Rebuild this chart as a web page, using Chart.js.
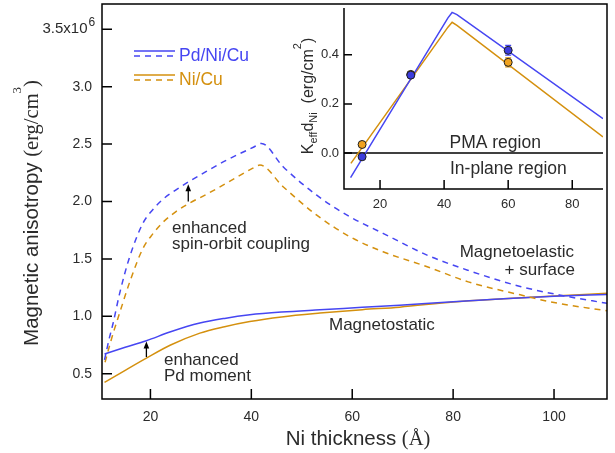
<!DOCTYPE html>
<html>
<head>
<meta charset="utf-8">
<script src="https://cdn.jsdelivr.net/npm/chart.js@4.4.0/dist/chart.umd.min.js"></script>
<style>
  html, body { margin: 0; padding: 0; background: #fff; }
  #wrap { position: relative; width: 615px; height: 453px; }
  #mainChart { position: absolute; left: 0; top: 0; }
  #insetChart { position: absolute; left: 290px; top: 0; }
</style>
</head>
<body>
<div id="wrap">
  <canvas id="mainChart" width="615" height="453"></canvas>
  <canvas id="insetChart" width="320" height="215"></canvas>
</div>
<script>
const BLUE = '#4646f2';
const ORANGE = '#d4900e';
const TXT = '#2b2b2b';
const SANS = '"Liberation Sans", Arial, Helvetica, sans-serif';
const SERIF = '"Liberation Serif", "Times New Roman", serif';

// main panel: Ni thickness (Å) vs anisotropy (x10^6 erg/cm^3)
const mainXTicks = [20, 40, 60, 80, 100];
const mainYTicks = [0.5, 1.0, 1.5, 2.0, 2.5, 3.0, 3.5];

// magnetoelastic + surface (dashed)
const pdElasticX = [10.9, 11.8, 12.6, 13.9, 15.9, 18.5, 20.5, 22.5, 25.0, 27.5, 31.0, 35.1, 40.5, 42.0, 46.3, 52.9, 59.5, 66.1, 75.0, 83.0, 93.3, 101.8, 110.5];
const pdElasticY = [0.62, 0.80, 0.94, 1.20, 1.52, 1.81, 1.93, 2.02, 2.10, 2.17, 2.26, 2.36, 2.475, 2.506, 2.303, 2.057, 1.868, 1.723, 1.53, 1.40, 1.26, 1.18, 1.113];
const niElasticX = [11.0, 12.0, 12.8, 13.9, 15.9, 18.5, 20.5, 22.5, 25.0, 27.5, 31.0, 35.1, 40.3, 41.7, 46.3, 52.9, 59.5, 66.1, 75.0, 83.0, 93.3, 100.0, 110.5];
const niElasticY = [0.60, 0.76, 0.88, 1.03, 1.30, 1.59, 1.72, 1.82, 1.91, 1.98, 2.06, 2.16, 2.29, 2.317, 2.129, 1.883, 1.694, 1.563, 1.43, 1.30, 1.187, 1.12, 1.048];

// magnetostatic (solid)
const pdStaticX = [10.9, 15.0, 19.2, 24.0, 29.8, 34.7, 39.7, 46.0, 53.6, 62.0, 69.4, 80.0, 90.0, 100.0, 110.5];
const pdStaticY = [0.672, 0.73, 0.787, 0.865, 0.941, 0.982, 1.013, 1.037, 1.057, 1.078, 1.097, 1.128, 1.153, 1.174, 1.19];
const niStaticX = [10.9, 15.0, 19.2, 24.0, 29.8, 34.7, 39.7, 46.0, 53.6, 62.0, 69.4, 80.0, 90.0, 100.0, 110.5];
const niStaticY = [0.424, 0.53, 0.636, 0.75, 0.854, 0.91, 0.955, 0.995, 1.028, 1.058, 1.08, 1.125, 1.153, 1.178, 1.20];

// inset: Keff*dNi (erg/cm^2) vs Ni thickness
const insetXTicks = [20, 40, 60, 80];
const insetYTicks = [0.0, 0.2, 0.4];
const pdFitX = [10.8, 41.2, 42.5, 44.0, 89.6];
const pdFitY = [-0.10, 0.55, 0.572, 0.563, 0.14];
const niFitX = [10.9, 41.2, 42.5, 44.0, 89.6];
const niFitY = [-0.042, 0.512, 0.532, 0.519, 0.066];
const insetPointX = [14.4, 29.6, 60];
const pdKeff = [-0.015, 0.317, 0.418];
const pdKeffErr = [0.006, 0.01, 0.02];
const niKeff = [0.035, 0.32, 0.369];
const niKeffErr = [0.006, 0.01, 0.018];

const pairs = (xs, ys) => xs.map((x, i) => ({ x, y: ys[i] }));

function drawRuns(ctx, runs, cx, cy, angle) {
  ctx.save();
  ctx.translate(cx, cy);
  ctx.rotate(angle);
  ctx.textAlign = 'left';
  ctx.textBaseline = 'alphabetic';
  let total = 0;
  runs.forEach(r => { ctx.font = r.font; r.w = ctx.measureText(r.text).width; total += r.w; });
  let u = -total / 2;
  runs.forEach(r => { ctx.font = r.font; ctx.fillText(r.text, u, r.dy || 0); u += r.w; });
  ctx.restore();
}

function arrowUp(ctx, x, yFrom, yTo) {
  ctx.beginPath();
  ctx.moveTo(x, yFrom);
  ctx.lineTo(x, yTo + 5);
  ctx.stroke();
  ctx.beginPath();
  ctx.moveTo(x, yTo);
  ctx.lineTo(x - 2.8, yTo + 7);
  ctx.lineTo(x + 2.8, yTo + 7);
  ctx.closePath();
  ctx.fill();
}

// keep the plot area exactly where the layout puts it
const fixX = h => s => { s.height = h; s.paddingLeft = 0; s.paddingRight = 0; };
const fixY = w => s => { s.width = w; s.paddingTop = 0; s.paddingBottom = 0; };

const mainDecor = {
  id: 'mainDecor',
  beforeDraw(chart) {
    const ctx = chart.ctx;
    ctx.save();
    ctx.fillStyle = '#fff';
    ctx.fillRect(0, 0, chart.width, chart.height);
    ctx.restore();
  },
  afterDraw(chart) {
    const { ctx, chartArea: a } = chart;
    const xs = chart.scales.x, ys = chart.scales.y;
    ctx.save();
    ctx.strokeStyle = '#000';
    ctx.lineWidth = 1.5;
    ctx.strokeRect(a.left, a.top, a.right - a.left, a.bottom - a.top);
    ctx.beginPath();
    xs.ticks.forEach(t => {
      const p = xs.getPixelForValue(t.value);
      ctx.moveTo(p, a.bottom); ctx.lineTo(p, a.bottom - 10);
    });
    ys.ticks.forEach(t => {
      const p = ys.getPixelForValue(t.value);
      ctx.moveTo(a.left, p); ctx.lineTo(a.left + 10, p);
    });
    ctx.stroke();

    // top tick label with exponent
    const yTop = ys.getPixelForValue(3.5);
    ctx.fillStyle = TXT;
    ctx.font = '15px ' + SANS;
    ctx.textAlign = 'right';
    ctx.textBaseline = 'middle';
    ctx.fillText('3.5x10', 87.5, yTop);
    ctx.font = '12px ' + SANS;
    ctx.textAlign = 'left';
    ctx.textBaseline = 'alphabetic';
    ctx.fillText('6', 88.5, yTop - 3);

    // axis titles
    ctx.fillStyle = TXT;
    drawRuns(ctx, [
      { text: 'Magnetic anisotropy ', font: '20.5px ' + SANS },
      { text: '(erg/cm', font: '20.5px ' + SERIF },
      { text: '3', font: '13px ' + SERIF, dy: -17 },
      { text: ')', font: '20.5px ' + SERIF }
    ], 38, 213, -Math.PI / 2);
    drawRuns(ctx, [
      { text: 'Ni thickness ', font: '20.5px ' + SANS },
      { text: '(Å)', font: '20.5px ' + SERIF }
    ], 358, 445, 0);

    // legend
    const legend = [
      { text: 'Pd/Ni/Cu', color: BLUE, base: 61 },
      { text: 'Ni/Cu', color: ORANGE, base: 85 }
    ];
    legend.forEach(l => {
      ctx.strokeStyle = l.color;
      ctx.lineWidth = 1.5;
      ctx.setLineDash([]);
      ctx.beginPath(); ctx.moveTo(134, l.base - 10); ctx.lineTo(175, l.base - 10); ctx.stroke();
      ctx.setLineDash([6, 5]);
      ctx.beginPath(); ctx.moveTo(134, l.base - 5); ctx.lineTo(175, l.base - 5); ctx.stroke();
      ctx.setLineDash([]);
      ctx.fillStyle = l.color;
      ctx.font = '17.5px ' + SANS;
      ctx.textAlign = 'left';
      ctx.fillText(l.text, 179, l.base);
    });

    // annotations
    ctx.fillStyle = TXT;
    ctx.font = '17px ' + SANS;
    ctx.textAlign = 'left';
    ctx.fillText('enhanced', 172, 233);
    ctx.fillText('spin-orbit coupling', 172, 249);
    ctx.fillText('enhanced', 164, 365);
    ctx.fillText('Pd moment', 164, 380.5);
    ctx.fillText('Magnetostatic', 329, 330);
    ctx.textAlign = 'right';
    ctx.fillText('Magnetoelastic', 574, 256.5);
    ctx.fillText('+ surface', 575, 275);

    // arrows
    ctx.strokeStyle = '#000';
    ctx.fillStyle = '#000';
    ctx.lineWidth = 1.3;
    arrowUp(ctx, xs.getPixelForValue(19.2), ys.getPixelForValue(0.645), ys.getPixelForValue(0.78));
    arrowUp(ctx, xs.getPixelForValue(27.5), ys.getPixelForValue(2.0), ys.getPixelForValue(2.15));
    ctx.restore();
  }
};

new Chart(document.getElementById('mainChart'), {
  type: 'line',
  data: {
    datasets: [
      { label: 'Pd/Ni/Cu magnetoelastic + surface', data: pairs(pdElasticX, pdElasticY), borderColor: BLUE, borderDash: [6, 5] },
      { label: 'Ni/Cu magnetoelastic + surface', data: pairs(niElasticX, niElasticY), borderColor: ORANGE, borderDash: [6, 5] },
      { label: 'Pd/Ni/Cu magnetostatic', data: pairs(pdStaticX, pdStaticY), borderColor: BLUE },
      { label: 'Ni/Cu magnetostatic', data: pairs(niStaticX, niStaticY), borderColor: ORANGE }
    ]
  },
  options: {
    responsive: false,
    animation: false,
    devicePixelRatio: 1,
    layout: { padding: { left: 0, top: 4, right: 8, bottom: 0 } },
    elements: {
      point: { radius: 0 },
      line: { borderWidth: 1.5, cubicInterpolationMode: 'monotone', fill: false }
    },
    plugins: { legend: { display: false }, tooltip: { enabled: false } },
    scales: {
      x: {
        type: 'linear', min: 10.4, max: 110.5,
        afterBuildTicks: s => { s.ticks = mainXTicks.map(v => ({ value: v })); },
        afterFit: fixX(54),
        grid: { display: false, drawTicks: false },
        border: { display: false },
        ticks: { padding: 10, color: TXT, font: { family: SANS, size: 14 }, maxRotation: 0, autoSkip: false, callback: v => String(v) }
      },
      y: {
        type: 'linear', min: 0.28, max: 3.72,
        afterBuildTicks: s => { s.ticks = mainYTicks.map(v => ({ value: v })); },
        afterFit: fixY(102),
        grid: { display: false, drawTicks: false },
        border: { display: false },
        ticks: { padding: 10, color: TXT, font: { family: SANS, size: 14 }, autoSkip: false,
                 callback: v => Math.abs(v - 3.5) < 1e-9 ? '' : v.toFixed(1) }
      }
    }
  },
  plugins: [mainDecor]
});

const insetDecor = {
  id: 'insetDecor',
  beforeDatasetsDraw(chart) {
    const { ctx, chartArea: a } = chart;
    const xs = chart.scales.x, ys = chart.scales.y;
    ctx.save();
    const y0 = ys.getPixelForValue(0);
    ctx.strokeStyle = '#000';
    ctx.lineWidth = 1.5;
    ctx.beginPath(); ctx.moveTo(a.left, y0); ctx.lineTo(a.right, y0); ctx.stroke();
    const sets = [
      { vals: niKeff, err: niKeffErr, color: ORANGE },
      { vals: pdKeff, err: pdKeffErr, color: BLUE }
    ];
    sets.forEach(s => {
      ctx.strokeStyle = s.color;
      ctx.lineWidth = 1.2;
      insetPointX.forEach((xv, i) => {
        const px = xs.getPixelForValue(xv);
        const top = ys.getPixelForValue(s.vals[i] + s.err[i]);
        const bot = ys.getPixelForValue(s.vals[i] - s.err[i]);
        ctx.beginPath();
        ctx.moveTo(px, top); ctx.lineTo(px, bot);
        ctx.moveTo(px - 3, top); ctx.lineTo(px + 3, top);
        ctx.moveTo(px - 3, bot); ctx.lineTo(px + 3, bot);
        ctx.stroke();
      });
    });
    ctx.restore();
  },
  afterDraw(chart) {
    const { ctx, chartArea: a } = chart;
    const xs = chart.scales.x, ys = chart.scales.y;
    ctx.save();
    ctx.strokeStyle = '#000';
    ctx.lineWidth = 1.5;
    ctx.beginPath();
    ctx.moveTo(a.left, a.top); ctx.lineTo(a.left, a.bottom); ctx.lineTo(a.right, a.bottom);
    xs.ticks.forEach(t => {
      const p = xs.getPixelForValue(t.value);
      ctx.moveTo(p, a.bottom); ctx.lineTo(p, a.bottom - 9);
    });
    ys.ticks.forEach(t => {
      const p = ys.getPixelForValue(t.value);
      ctx.moveTo(a.left, p); ctx.lineTo(a.left + 8, p);
    });
    ctx.stroke();

    ctx.fillStyle = TXT;
    ctx.font = '17.5px ' + SANS;
    ctx.textAlign = 'left';
    ctx.fillText('PMA region', 159.5, 148.3);
    ctx.fillText('In-plane region', 160, 174);

    drawRuns(ctx, [
      { text: 'K', font: '16px ' + SANS },
      { text: 'eff', font: '11px ' + SANS, dy: 4 },
      { text: 'd', font: '16px ' + SANS },
      { text: 'Ni', font: '11px ' + SANS, dy: 4 },
      { text: '  (erg/cm', font: '16px ' + SANS },
      { text: '2', font: '11px ' + SANS, dy: -12 },
      { text: ')', font: '16px ' + SANS }
    ], 23.3, 96, -Math.PI / 2);
    ctx.restore();
  }
};

new Chart(document.getElementById('insetChart'), {
  type: 'line',
  data: {
    datasets: [
      { label: 'Pd/Ni/Cu measured', data: pairs(insetPointX, pdKeff), showLine: false, order: 0,
        pointRadius: 4, pointBackgroundColor: '#3c3cdc', pointBorderColor: '#1e1e1e', pointBorderWidth: 1 },
      { label: 'Ni/Cu measured', data: pairs(insetPointX, niKeff), showLine: false, order: 0,
        pointRadius: 4, pointBackgroundColor: '#f0a21e', pointBorderColor: '#1e1e1e', pointBorderWidth: 1 },
      { label: 'Pd/Ni/Cu model', data: pairs(pdFitX, pdFitY), borderColor: BLUE, order: 1 },
      { label: 'Ni/Cu model', data: pairs(niFitX, niFitY), borderColor: ORANGE, order: 1 }
    ]
  },
  options: {
    responsive: false,
    animation: false,
    devicePixelRatio: 1,
    layout: { padding: { left: 0, top: 8, right: 7, bottom: 0 } },
    elements: {
      point: { radius: 0 },
      line: { borderWidth: 1.5, tension: 0, fill: false }
    },
    plugins: { legend: { display: false }, tooltip: { enabled: false } },
    scales: {
      x: {
        type: 'linear', min: 8.75, max: 89.6,
        afterBuildTicks: s => { s.ticks = insetXTicks.map(v => ({ value: v })); },
        afterFit: fixX(26),
        grid: { display: false, drawTicks: false },
        border: { display: false },
        ticks: { padding: 8, color: TXT, font: { family: SANS, size: 13 }, maxRotation: 0, autoSkip: false, callback: v => String(v) }
      },
      y: {
        type: 'linear', min: -0.146, max: 0.59,
        afterBuildTicks: s => { s.ticks = insetYTicks.map(v => ({ value: v })); },
        afterFit: fixY(54),
        grid: { display: false, drawTicks: false },
        border: { display: false },
        ticks: { padding: 5, color: TXT, font: { family: SANS, size: 13 }, autoSkip: false, callback: v => v.toFixed(1) }
      }
    }
  },
  plugins: [insetDecor]
});
</script>
</body>
</html>
